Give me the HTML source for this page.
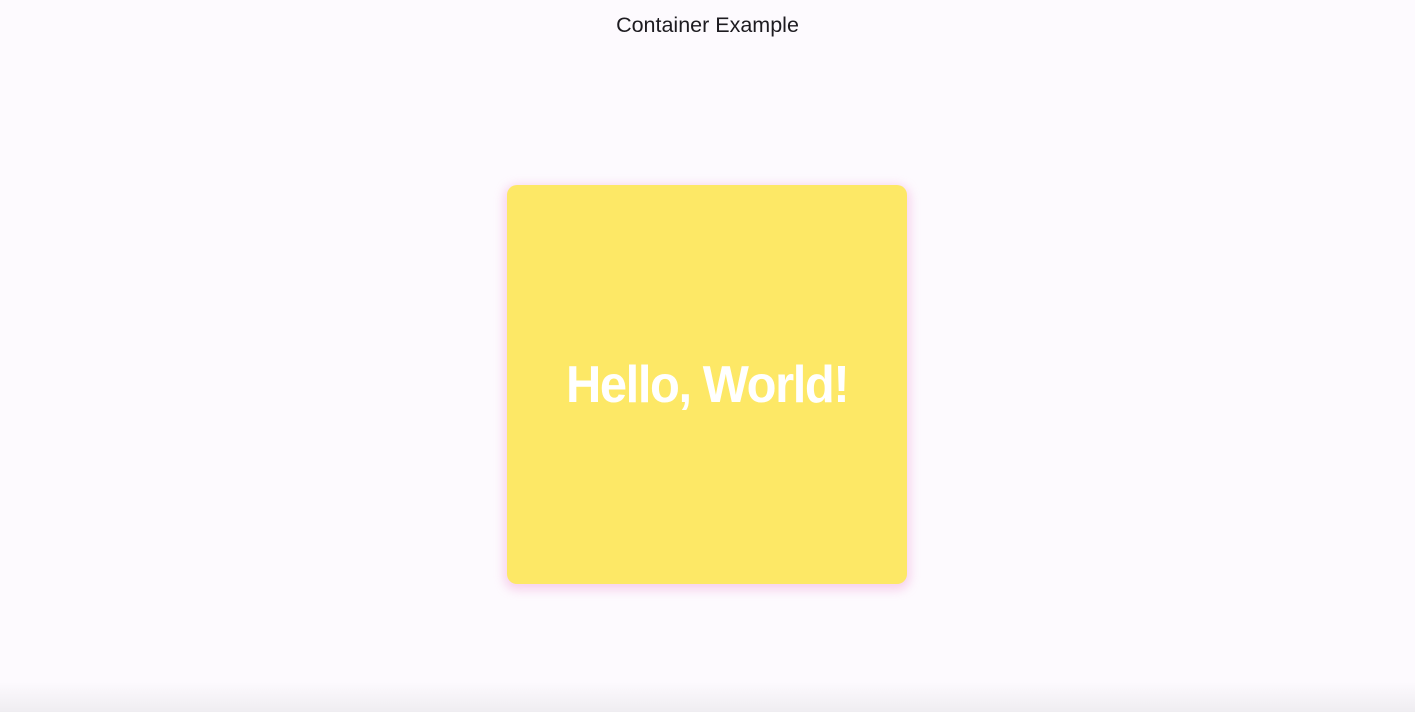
<!DOCTYPE html>
<html><head><style>
html,body{margin:0;width:1415px;height:712px;background:#fdfafe;overflow:hidden;font-family:"Liberation Sans",sans-serif;position:relative}
.t{position:absolute;top:13px;left:0;width:1415px;text-align:center;font-size:21.5px;color:#1d1b20}
.b{position:absolute;left:507px;top:185px;width:400px;height:399px;background:#fde866;border-radius:10px;box-shadow:0 3px 10px 3px rgba(240,150,210,0.4);display:flex;align-items:center;justify-content:center;color:#fff;font-weight:bold;font-size:52px;letter-spacing:-1.5px;}
.b span{display:inline-block;transform:scaleX(0.94)}
.f{position:absolute;left:0;bottom:0;width:1415px;height:30px;background:linear-gradient(to bottom,rgba(240,238,242,0),#efedf1)}
</style></head><body>
<div class="t">Container Example</div>
<div class="b"><span>Hello, World!</span></div>
<div class="f"></div>
</body></html>
